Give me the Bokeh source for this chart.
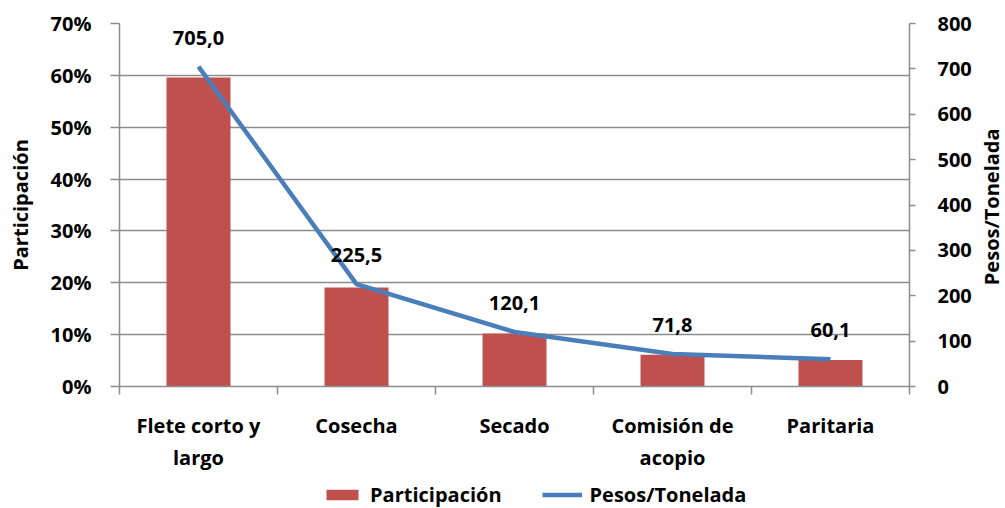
import math
from bokeh.plotting import figure
from bokeh.layouts import column, row
from bokeh.models import (Range1d, LinearAxis, FixedTicker, NumeralTickFormatter,
                          ColumnDataSource, Legend, LegendItem, LabelSet, Label)
from bokeh.core.properties import value
from bokeh.embed import file_html
from bokeh.resources import INLINE

categories = ["Flete corto y\nlargo", "Cosecha", "Secado", "Comisión de\nacopio", "Paritaria"]
participacion = [0.596, 0.191, 0.102, 0.061, 0.051]
pesos_tonelada = [705.0, 225.5, 120.1, 71.8, 60.1]

x = [i + 0.5 for i in range(len(categories))]
labels = [f"{v:.1f}".replace(".", ",") for v in pesos_tonelada]
src = ColumnDataSource(dict(x=x, part=participacion, pesos=pesos_tonelada, lab=labels))

FONT = "Open Sans"
FS = "20px"
GRAY = "#8c8c8c"
RED = "#c0504d"
BLUE = "#4a7ebb"

yrange = Range1d(0, 0.7)
p = figure(width=975, height=474, output_backend="svg", toolbar_location=None,
           x_range=Range1d(0, len(categories)), y_range=yrange,
           min_border_left=119, min_border_right=66, min_border_top=23, min_border_bottom=88,
           y_axis_location=None, x_axis_location=None)
p.outline_line_color = None
p.extra_y_ranges = {"right": Range1d(0, 800)}

bars = p.vbar(x="x", top="part", width=0.405, source=src, fill_color=RED, line_color=None)
line = p.line(x="x", y="pesos", source=src, y_range_name="right", line_color=BLUE, line_width=4.5)

lab = LabelSet(x="x", y="pesos", text="lab", source=src, y_range_name="right",
               text_align="center", text_baseline="alphabetic", y_offset=22,
               text_font=value(FONT), text_font_style="bold", text_font_size=FS, text_color="black")
p.add_layout(lab)

def style_axis(ax):
    ax.axis_line_color = GRAY
    ax.axis_line_width = 1.5
    ax.major_tick_line_color = GRAY
    ax.major_tick_line_width = 1.5
    ax.minor_tick_line_color = None
    ax.major_label_text_font = FONT
    ax.major_label_text_font_style = "bold"
    ax.major_label_text_font_size = FS
    ax.major_label_text_color = "black"
    ax.axis_label_text_font = FONT
    ax.axis_label_text_font_style = "bold"
    ax.axis_label_text_font_size = FS
    ax.axis_label_text_color = "black"

# left axis
yl = LinearAxis(ticker=FixedTicker(ticks=[i / 10 for i in range(8)]),
                formatter=NumeralTickFormatter(format="0%"), axis_label="Participación")
style_axis(yl)
yl.major_tick_in = 0
yl.major_tick_out = 9
yl.major_label_standoff = 19
yl.axis_label_standoff = 14
p.add_layout(yl, "left")

# right axis
yr = LinearAxis(y_range_name="right", ticker=FixedTicker(ticks=list(range(0, 801, 100))))
style_axis(yr)
yr.major_tick_in = 0
yr.major_tick_out = 6
yr.major_label_standoff = 22
p.add_layout(yr, "right")

# bottom axis: labels at centers, tick marks at category boundaries
xb = LinearAxis(ticker=FixedTicker(ticks=x, minor_ticks=list(range(len(categories) + 1))),
                major_label_overrides={xi: c for xi, c in zip(x, categories)})
style_axis(xb)
xb.major_tick_line_color = None
xb.minor_tick_line_color = GRAY
xb.minor_tick_line_width = 1.5
xb.minor_tick_in = 0
xb.minor_tick_out = 8
xb.major_label_standoff = 17
p.add_layout(xb, "below")

p.ygrid.ticker = FixedTicker(ticks=[i / 10 for i in range(8)])
p.ygrid.grid_line_color = GRAY
p.ygrid.grid_line_width = 1.5
p.xgrid.grid_line_color = None

# right-hand title strip (title reads bottom to top)
tfig = figure(width=30, height=474, output_backend="svg", toolbar_location=None,
              x_range=Range1d(0, 30), y_range=yrange,
              min_border_left=0, min_border_right=0, min_border_top=23, min_border_bottom=88,
              x_axis_location=None, y_axis_location=None)
tfig.outline_line_color = None
tfig.grid.visible = False
tfig.add_layout(Label(x=16, y=0.3465, text="Pesos/Tonelada", angle=math.pi / 2,
                      text_align="center", text_baseline="middle",
                      text_font=FONT, text_font_style="bold", text_font_size=FS, text_color="black"))

# legend strip (swatch renderers sit outside the visible range; only their style is used)
lfig = figure(width=1005, height=34, output_backend="svg", toolbar_location=None,
              x_range=Range1d(0, 1005), y_range=Range1d(0, 34), min_border=0,
              x_axis_location=None, y_axis_location=None)
lfig.outline_line_color = None
lfig.grid.visible = False
lbar = lfig.vbar(x=[-100], top=[-100], width=1, fill_color=RED, line_color=None)
lline = lfig.line(x=[-100, -90], y=[-100, -100], line_color=BLUE, line_width=4.5)
legend = Legend(items=[LegendItem(label="Participación", renderers=[lbar]),
                       LegendItem(label="Pesos/Tonelada", renderers=[lline])],
                orientation="horizontal", location=(322, 0),
                glyph_width=40, glyph_height=13, spacing=40, label_standoff=8,
                label_text_font=FONT, label_text_font_style="bold", label_text_font_size=FS,
                label_text_color="black",
                border_line_color=None, background_fill_alpha=0, padding=0, margin=0)
lfig.add_layout(legend, "center")

layout = column(row(p, tfig, spacing=0), lfig, spacing=0)
open("out.html", "w").write(file_html(layout, INLINE))
